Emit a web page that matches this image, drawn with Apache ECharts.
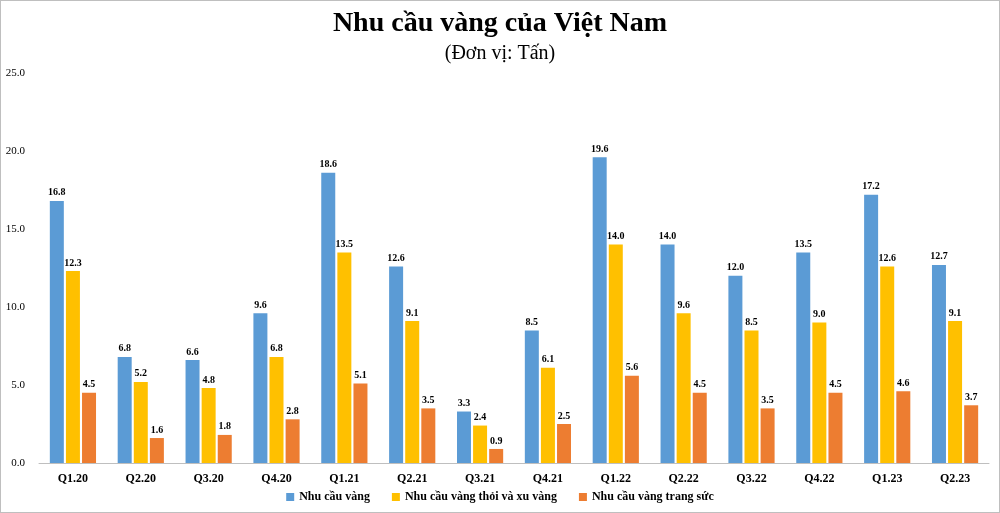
<!DOCTYPE html>
<html><head><meta charset="utf-8">
<script src="https://cdn.jsdelivr.net/npm/echarts@6/dist/echarts.min.js"></script>
<style>html,body{margin:0;padding:0;background:#fff}#c{width:1000px;height:513px;box-sizing:border-box;border:1px solid #bfbfbf}</style>
</head><body><div id="c"></div>
<script>
const categories=['Q1.20','Q2.20','Q3.20','Q4.20','Q1.21','Q2.21','Q3.21','Q4.21','Q1.22','Q2.22','Q3.22','Q4.22','Q1.23','Q2.23'];
const tongNhuCau=[16.8,6.8,6.6,9.6,18.6,12.6,3.3,8.5,19.6,14.0,12.0,13.5,17.2,12.7];
const thoiXu=[12.3,5.2,4.8,6.8,13.5,9.1,2.4,6.1,14.0,9.6,8.5,9.0,12.6,9.1];
const trangSuc=[4.5,1.6,1.8,2.8,5.1,3.5,0.9,2.5,5.6,4.5,3.5,4.5,4.6,3.7];
const names=['Nhu cầu vàng','Nhu cầu vàng thỏi và xu vàng','Nhu cầu vàng trang sức'];
const colors=['#5B9BD5','#FFC000','#ED7D31'];
const F='Liberation Serif';
const chart=echarts.init(document.getElementById('c'));
const mk=(n,d,c)=>({name:n,type:'bar',data:d,barWidth:14,barGap:'15%',itemStyle:{color:c},
 label:{show:true,position:'top',formatter:p=>p.value.toFixed(1),fontFamily:F,fontWeight:'bold',fontSize:10,color:'#000',distance:3}});
chart.setOption({
 animation:false,
 title:[{text:'Nhu cầu vàng của Việt Nam',left:'center',top:4,textStyle:{fontFamily:F,fontWeight:'bold',fontSize:28,color:'#000'}},
  {text:'(Đơn vị: Tấn)',left:'center',top:38,textStyle:{fontFamily:F,fontWeight:'normal',fontSize:20,color:'#000'}}],
 legend:{bottom:4,itemWidth:8,itemHeight:8,itemGap:22,textStyle:{fontFamily:F,fontWeight:'bold',fontSize:12,color:'#000'},data:names.map((n,i)=>({name:n,icon:'rect'}))},
 grid:{left:38,right:10,top:72,bottom:49},
 xAxis:{type:'category',data:categories,axisTick:{show:false},axisLine:{lineStyle:{color:'#bfbfbf'}},
  axisLabel:{fontFamily:F,fontWeight:'bold',fontSize:12,color:'#000',margin:10}},
 yAxis:{type:'value',min:0,max:25,interval:5,splitLine:{show:false},
  axisLabel:{formatter:v=>v.toFixed(1),fontFamily:F,fontSize:11,color:'#000',margin:14}},
 series:[mk(names[0],tongNhuCau,colors[0]),mk(names[1],thoiXu,colors[1]),mk(names[2],trangSuc,colors[2])]
});
</script></body></html>
